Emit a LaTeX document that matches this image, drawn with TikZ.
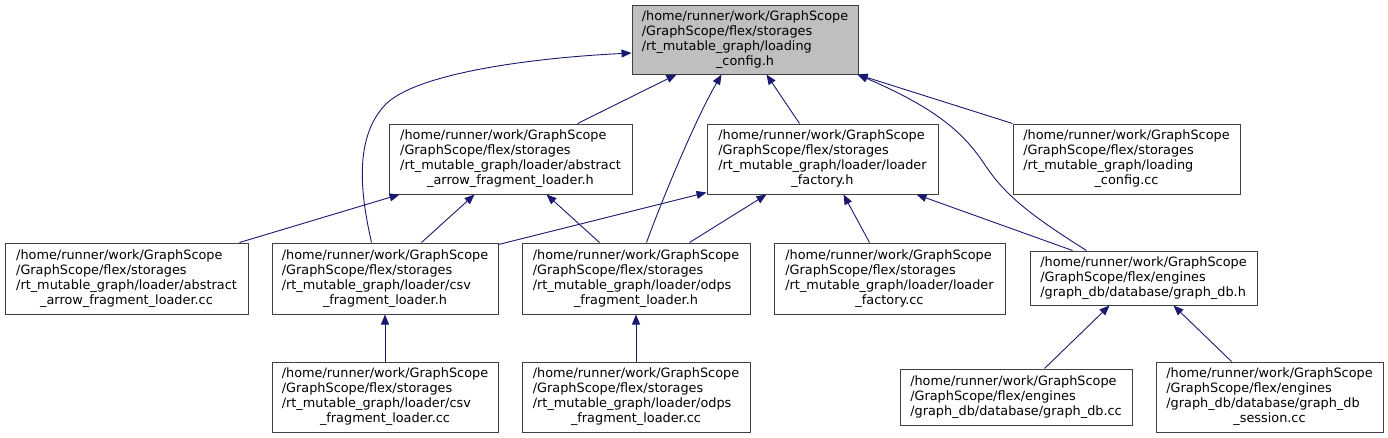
\documentclass[tikz,border=0pt]{standalone}
\usepackage{fontspec}
\setmainfont{DejaVu Sans}
\usetikzlibrary{arrows.meta,calc}
\definecolor{edgeblue}{HTML}{191970}
\definecolor{boxgray}{HTML}{404040}
\definecolor{rootfill}{HTML}{BFBFBF}
\newcommand{\fourl}[4]{\begin{tabular}{@{}l@{}}#1\\#2\\#3\\\multicolumn{1}{@{}c@{}}{#4}\end{tabular}}
\newcommand{\threel}[3]{\begin{tabular}{@{}l@{}}#1\\#2\\#3\end{tabular}}
\begin{document}
\begin{tikzpicture}[x=1pt,y=-1pt,
  box/.style={draw=boxgray, line width=1pt, inner sep=0pt, fill=white,
    font=\fontsize{12.85}{15}\selectfont},
  edge/.style={draw=edgeblue, line width=0.9pt, -{Triangle[length=10pt,width=8pt]}}]
\useasboundingbox (0,0) rectangle (1388,437);
% top
\node[box, fill=rootfill, minimum width=226pt, minimum height=69pt] (T) at (745,39.5)
  {\fourl{/home/runner/work/GraphScope}{/GraphScope/flex/storages}{/rt\_mutable\_graph/loading}{\_config.h}};
% row 2
\node[box, minimum width=243pt, minimum height=70pt] (A) at (510.5,159)
  {\fourl{/home/runner/work/GraphScope}{/GraphScope/flex/storages}{/rt\_mutable\_graph/loader/abstract}{\_arrow\_fragment\_loader.h}};
\node[box, minimum width=231pt, minimum height=70pt] (LF) at (822.5,159)
  {\fourl{/home/runner/work/GraphScope}{/GraphScope/flex/storages}{/rt\_mutable\_graph/loader/loader}{\_factory.h}};
\node[box, minimum width=227pt, minimum height=70pt] (LC) at (1126.5,159)
  {\fourl{/home/runner/work/GraphScope}{/GraphScope/flex/storages}{/rt\_mutable\_graph/loading}{\_config.cc}};
% row 3
\node[box, minimum width=243pt, minimum height=71pt] (AC) at (126.5,278.5)
  {\fourl{/home/runner/work/GraphScope}{/GraphScope/flex/storages}{/rt\_mutable\_graph/loader/abstract}{\_arrow\_fragment\_loader.cc}};
\node[box, minimum width=226pt, minimum height=71pt] (CSV) at (385,278.5)
  {\fourl{/home/runner/work/GraphScope}{/GraphScope/flex/storages}{/rt\_mutable\_graph/loader/csv}{\_fragment\_loader.h}};
\node[box, minimum width=228pt, minimum height=71pt] (ODPS) at (636,278.5)
  {\fourl{/home/runner/work/GraphScope}{/GraphScope/flex/storages}{/rt\_mutable\_graph/loader/odps}{\_fragment\_loader.h}};
\node[box, minimum width=231pt, minimum height=71pt] (LFC) at (889.5,278.5)
  {\fourl{/home/runner/work/GraphScope}{/GraphScope/flex/storages}{/rt\_mutable\_graph/loader/loader}{\_factory.cc}};
\node[box, minimum width=227pt, minimum height=54pt] (GDB) at (1143.5,278)
  {\threel{/home/runner/work/GraphScope}{/GraphScope/flex/engines}{/graph\_db/database/graph\_db.h}};
% row 4
\node[box, minimum width=226pt, minimum height=70pt] (CSVC) at (385,397)
  {\fourl{/home/runner/work/GraphScope}{/GraphScope/flex/storages}{/rt\_mutable\_graph/loader/csv}{\_fragment\_loader.cc}};
\node[box, minimum width=228pt, minimum height=70pt] (ODPSC) at (636,397)
  {\fourl{/home/runner/work/GraphScope}{/GraphScope/flex/storages}{/rt\_mutable\_graph/loader/odps}{\_fragment\_loader.cc}};
\node[box, minimum width=232pt, minimum height=56pt] (GDBC) at (1016,397)
  {\threel{/home/runner/work/GraphScope}{/GraphScope/flex/engines}{/graph\_db/database/graph\_db.cc}};
\node[box, minimum width=227pt, minimum height=70pt] (SESS) at (1269.5,397)
  {\fourl{/home/runner/work/GraphScope}{/GraphScope/flex/engines}{/graph\_db/database/graph\_db}{\_session.cc}};
% edges
\draw[edge] ($(A.north west)+(189,0)$) -- ($(T.south west)+(45,0)$);
\draw[edge] ($(CSV.north west)+(100,0)$) .. controls (362,200) and (352,140) .. (385,105)
  .. controls (415,73.5) and (530,58) .. ($(T.west)+(0,13.5)$);
\draw[edge] ($(ODPS.north west)+(125,0)$) .. controls (662,200) and (695,120) .. ($(T.south west)+(90,0)$);
\draw[edge] ($(LF.north west)+(93,0)$) -- ($(T.south west)+(135,0)$);
\draw[edge] ($(GDB.north west)+(57,0)$) .. controls (1030,215) and (1005,195) .. (985,165)
  .. controls (965,135) and (940,110) .. ($(T.south east)+(-1,0)$);
\draw[edge] (LC.north west) -- ($(T.south east)+(-1,0)$);
\draw[edge] ($(AC.north west)+(235,0)$) -- ($(A.south west)+(11,0)$);
\draw[edge] ($(CSV.north west)+(150,0)$) -- ($(A.south west)+(86,0)$);
\draw[edge] ($(ODPS.north west)+(78,0)$) -- ($(A.south west)+(158,0)$);
\draw[edge] ($(CSV.north east)+(0,2)$) -- ($(LF.south west)+(0,-2)$);
\draw[edge] ($(ODPS.north west)+(168,0)$) -- ($(LF.south west)+(60,0)$);
\draw[edge] ($(LFC.north west)+(96,0)$) -- ($(LF.south west)+(137,0)$);
\draw[edge] ($(GDB.north west)+(43,0)$) -- ($(LF.south west)+(210,0)$);
\draw[edge] (CSVC.north) -- (CSV.south);
\draw[edge] (ODPSC.north) -- (ODPS.south);
\draw[edge] ($(GDBC.north west)+(145,0)$) -- ($(GDB.south west)+(80,0)$);
\draw[edge] ($(SESS.north west)+(76,0)$) -- ($(GDB.south west)+(144,0)$);
\end{tikzpicture}
\end{document}
